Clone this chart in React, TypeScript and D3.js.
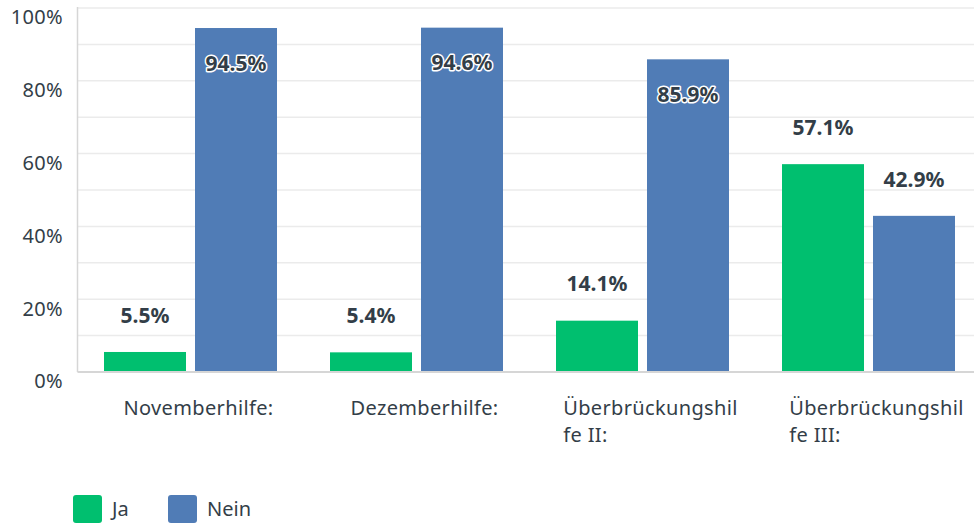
import React from "react";
import * as d3 from "d3";

const categories = [["Novemberhilfe:"], ["Dezemberhilfe:"], ["Überbrückungshil", "fe II:"], ["Überbrückungshil", "fe III:"]];
const seriesNames = ["Ja", "Nein"];
const jaValues = [5.5, 5.4, 14.1, 57.1];
const neinValues = [94.5, 94.6, 85.9, 42.9];
const yTicks = [0, 20, 40, 60, 80, 100];
const gridTicks = [10, 20, 30, 40, 50, 60, 70, 80, 90, 100];
const colors = ["#00bf6f", "#507cb6"];

const W = 974;
const H = 527;
const FONT = "'Noto Sans', sans-serif";
const TEXT = "#333e48";
const LS = 0.35;

function measure(text: string, font: string): number {
  const c = document.createElement("canvas");
  const ctx = c.getContext("2d");
  if (!ctx) return text.length * 10;
  ctx.font = font;
  return ctx.measureText(text).width + LS * text.length;
}

export default function App() {
  const left = 77.5;
  const bandW = 226;
  const x0 = d3
    .scaleBand<number>()
    .domain(d3.range(categories.length))
    .range([left, left + bandW * categories.length])
    .paddingInner(0)
    .paddingOuter(0);
  const x1 = d3
    .scaleBand<number>()
    .domain([0, 1])
    .range([26.5, bandW - 26.5])
    .paddingInner(0.099);
  const y = d3.scaleLinear().domain([0, 100]).range([372, 8]);
  const rows = [jaValues, neinValues];
  const catFont = `20px ${FONT}`;

  return (
    <svg width={W} height={H} style={{ position: "absolute", left: 0, top: 0, background: "#fff" }}>
      {gridTicks.map((t) => (
        <line key={t} x1={left} x2={W} y1={y(t)} y2={y(t)} stroke="#ebebeb" strokeWidth={1.5} />
      ))}
      <line x1={left} x2={left} y1={y(100) - 1} y2={y(0)} stroke="#d6d6d6" strokeWidth={1.5} />
      {yTicks.map((t) => (
        <text key={t} x={63} y={y(t) + 11} textAnchor="end" dominantBaseline="middle" fontFamily={FONT} fontSize={20} fill={TEXT} letterSpacing={0.3}>
          {t}%
        </text>
      ))}
      {categories.map((cat, i) => {
        const x = x0(i)!;
        const cx = x + bandW / 2;
        const bw = Math.max(...cat.map((l) => measure(l, catFont)));
        return (
          <g key={i}>
            {rows.map((vals, s) => {
              const v = vals[i];
              const bx = x + x1(s)!;
              const bwid = x1.bandwidth();
              const inside = y(v) - 35 < 40;
              const ly = inside ? y(v) + 37 : y(v) - 35;
              return (
                <g key={s}>
                  <rect x={bx} y={y(v)} width={bwid} height={y(0) - y(v)} fill={colors[s]} />
                  <text
                    x={bx + bwid / 2}
                    y={ly}
                    textAnchor="middle"
                    dominantBaseline="middle"
                    fontFamily={FONT}
                    fontWeight="bold"
                    fontSize={21}
                    fill={TEXT}
                    stroke={inside ? "#fff" : "none"}
                    strokeWidth={inside ? 3 : 0}
                    strokeLinejoin="round"
                    style={{ paintOrder: "stroke" }}
                  >
                    {v.toFixed(1)}%
                  </text>
                </g>
              );
            })}
            {cat.map((line, li) => (
              <text key={li} x={cx + 8 - bw / 2} y={y(0) + 38 + li * 27} dominantBaseline="middle" fontFamily={FONT} fontSize={20} fill={TEXT} letterSpacing={LS}>
                {line}
              </text>
            ))}
          </g>
        );
      })}
      <line x1={left} x2={W} y1={y(0)} y2={y(0)} stroke="#d6d6d6" strokeWidth={2} />
      {seriesNames.map((n, s) => {
        const lx = s === 0 ? 73 : 168;
        return (
          <g key={n}>
            <rect x={lx} y={495} width={29} height={28} rx={3} fill={colors[s]} />
            <text x={lx + 39} y={511} dominantBaseline="middle" fontFamily={FONT} fontSize={20} fill={TEXT}>
              {n}
            </text>
          </g>
        );
      })}
    </svg>
  );
}
